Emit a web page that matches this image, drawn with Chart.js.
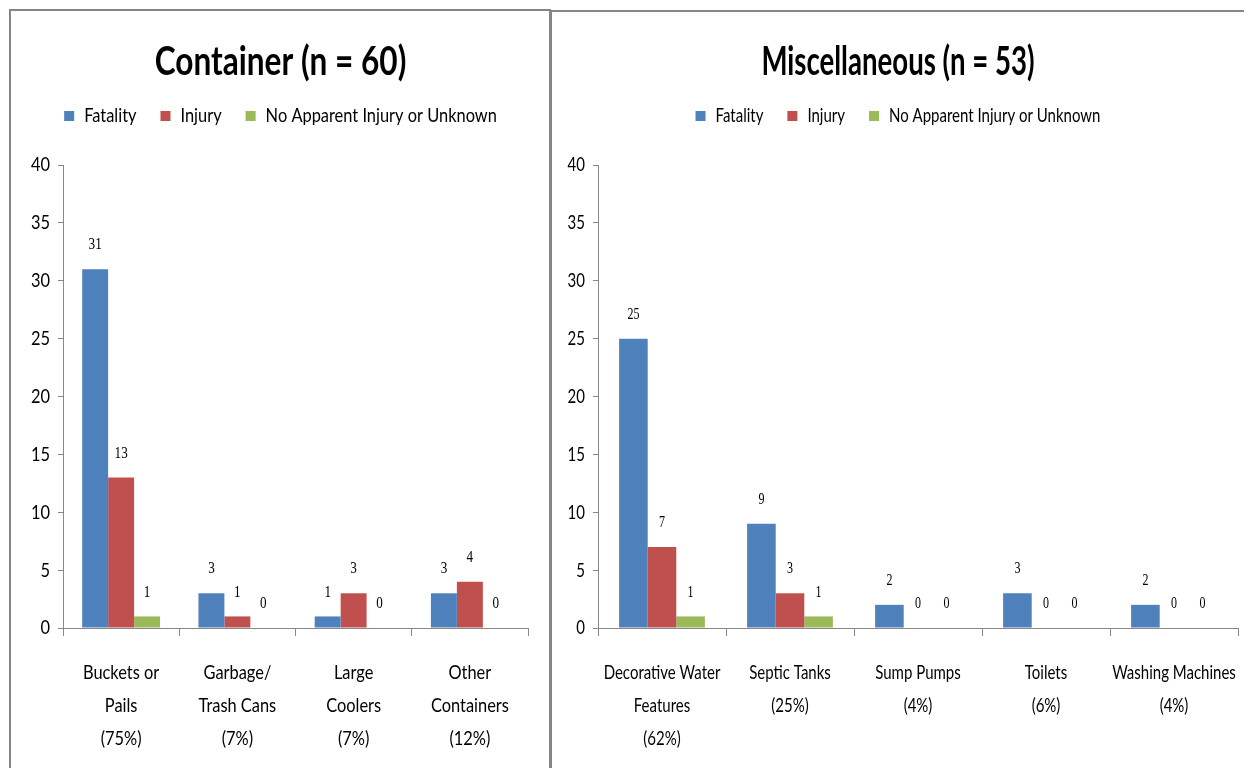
<!DOCTYPE html>
<html>
<head>
<meta charset="utf-8">
<script src="https://cdn.jsdelivr.net/npm/chart.js@4.4.0/dist/chart.umd.min.js"></script>
<style>
  body { margin: 0; width: 1244px; height: 768px; overflow: hidden; position: relative; background: #fff; }
  .panel { position: absolute; border: 2px solid #858585; box-sizing: border-box; background: #fff; }
  #p1 { left: 9px; top: 9px; width: 542px; height: 800px; }
  #p2 { left: 550px; top: 10px; width: 720px; height: 800px; }
  canvas { position: absolute; }
  #c1 { left: 11px; top: 12px; }
  #c2 { left: 552px; top: 12px; }
</style>
</head>
<body>
<div class="panel" id="p1"></div>
<div class="panel" id="p2"></div>
<canvas id="c1" width="539" height="756"></canvas>
<canvas id="c2" width="692" height="756"></canvas>
<script>
// Data
const seriesNames = ['Fatality', 'Injury', 'No Apparent Injury or Unknown'];
const seriesColors = ['#4F81BD', '#C0504D', '#9BBB59'];

const containerLabels = [
    ['Buckets or', 'Pails', '(75%)'],
    ['Garbage/', 'Trash Cans', '(7%)'],
    ['Large', 'Coolers', '(7%)'],
    ['Other', 'Containers', '(12%)']
];
const containerFatality = [31, 3, 1, 3];
const containerInjury = [13, 1, 3, 4];
const containerNoInjury = [1, 0, 0, 0];

const miscLabels = [
    ['Decorative Water', 'Features', '(62%)'],
    ['Septic Tanks', '(25%)'],
    ['Sump Pumps', '(4%)'],
    ['Toilets', '(6%)'],
    ['Washing Machines', '(4%)']
];
const miscFatality = [25, 9, 2, 3, 2];
const miscInjury = [7, 3, 0, 0, 0];
const miscNoInjury = [1, 1, 0, 0, 0];

const yMin = 0, yMax = 40, yStep = 5;

const FONT = "Lato, 'Liberation Sans', sans-serif";

// the original text is a narrow face: draw chart text horizontally condensed
// (and measure it that way so the layout agrees)
const condensedText = {
    id: 'condensedText',
    beforeInit(chart) {
        const sq = chart.options.plugins.condensedText;
        const ctx = chart.ctx;
        const fill = ctx.fillText.bind(ctx);
        const measure = ctx.measureText.bind(ctx);
        const factor = () => ctx.font.indexOf('bold') >= 0 ? sq.title : sq.text;
        ctx.fillText = function (text, x, y) {
            const f = factor();
            ctx.save();
            ctx.translate(x, y);
            ctx.scale(f, 1);
            fill(text, 0, 0);
            ctx.restore();
        };
        ctx.measureText = function (text) {
            const m = measure(text);
            const f = factor();
            return {
                width: m.width * f,
                actualBoundingBoxAscent: m.actualBoundingBoxAscent,
                actualBoundingBoxDescent: m.actualBoundingBoxDescent,
                actualBoundingBoxLeft: m.actualBoundingBoxLeft * f,
                actualBoundingBoxRight: m.actualBoundingBoxRight * f
            };
        };
    }
};

// value labels above each bar
const valueLabels = {
    id: 'valueLabels',
    afterDatasetsDraw(chart) {
        const ctx = chart.ctx;
        ctx.save();
        ctx.font = "16px 'Liberation Serif', serif";
        ctx.fillStyle = '#000';
        ctx.textAlign = 'center';
        ctx.textBaseline = 'middle';
        chart.data.datasets.forEach((ds, i) => {
            chart.getDatasetMeta(i).data.forEach((bar, j) => {
                ctx.fillText(ds.data[j], bar.x, bar.y - 24);
            });
        });
        ctx.restore();
    }
};

// extra room between legend and plot
const legendGap = {
    id: 'legendGap',
    beforeInit(chart) {
        const fit = chart.legend.fit;
        chart.legend.fit = function () {
            fit.bind(chart.legend)();
            this.height += chart.options.plugins.legendGap.extra;
        };
    }
};

function makeChart(id, title, labels, fat, inj, noi, yWidth, padRight, squeeze) {
    const data = [fat, inj, noi];
    new Chart(document.getElementById(id), {
        type: 'bar',
        data: {
            labels: labels,
            datasets: seriesNames.map((name, i) => ({
                label: name,
                data: data[i],
                backgroundColor: seriesColors[i],
                borderWidth: 0,
                categoryPercentage: 0.67,
                barPercentage: 1.0
            }))
        },
        options: {
            responsive: false,
            animation: false,
            layout: { padding: 0 },
            plugins: {
                condensedText: squeeze,
                legendGap: { extra: 29 },
                title: {
                    display: true,
                    text: title,
                    color: '#000',
                    font: { family: FONT, size: 40, weight: 'bold', lineHeight: 1.0 },
                    padding: { top: 30, bottom: 0 }
                },
                legend: {
                    position: 'top',
                    labels: {
                        boxWidth: 10, boxHeight: 10,
                        color: '#000',
                        padding: 24,
                        font: { family: FONT, size: 20 }
                    }
                },
                tooltip: { enabled: false }
            },
            scales: {
                x: {
                    offset: true,
                    grid: { display: true, offset: true, drawOnChartArea: false, tickLength: 8, color: '#888' },
                    border: { color: '#888', width: 1 },
                    ticks: { color: '#000', padding: 20, autoSkip: false, maxRotation: 0, font: { family: FONT, size: 20, lineHeight: 1.65 } },
                    afterFit(scale) {
                        scale.height = 140;
                        scale.paddingLeft = 0;
                        scale.paddingRight = padRight;
                    }
                },
                y: {
                    min: yMin, max: yMax,
                    grid: { display: true, drawOnChartArea: false, tickLength: 5, color: '#888' },
                    border: { color: '#888', width: 1 },
                    ticks: { stepSize: yStep, color: '#000', padding: 8, font: { family: FONT, size: 20 } },
                    afterFit(scale) { scale.width = yWidth; }
                }
            }
        },
        plugins: [condensedText, valueLabels, legendGap]
    });
}

makeChart('c1', 'Container (n = 60)', containerLabels, containerFatality, containerInjury, containerNoInjury, 52, 22, { text: 0.82, title: 0.79 });
makeChart('c2', 'Miscellaneous (n = 53)', miscLabels, miscFatality, miscInjury, miscNoInjury, 46, 6, { text: 0.75, title: 0.69 });
</script>
</body>
</html>
